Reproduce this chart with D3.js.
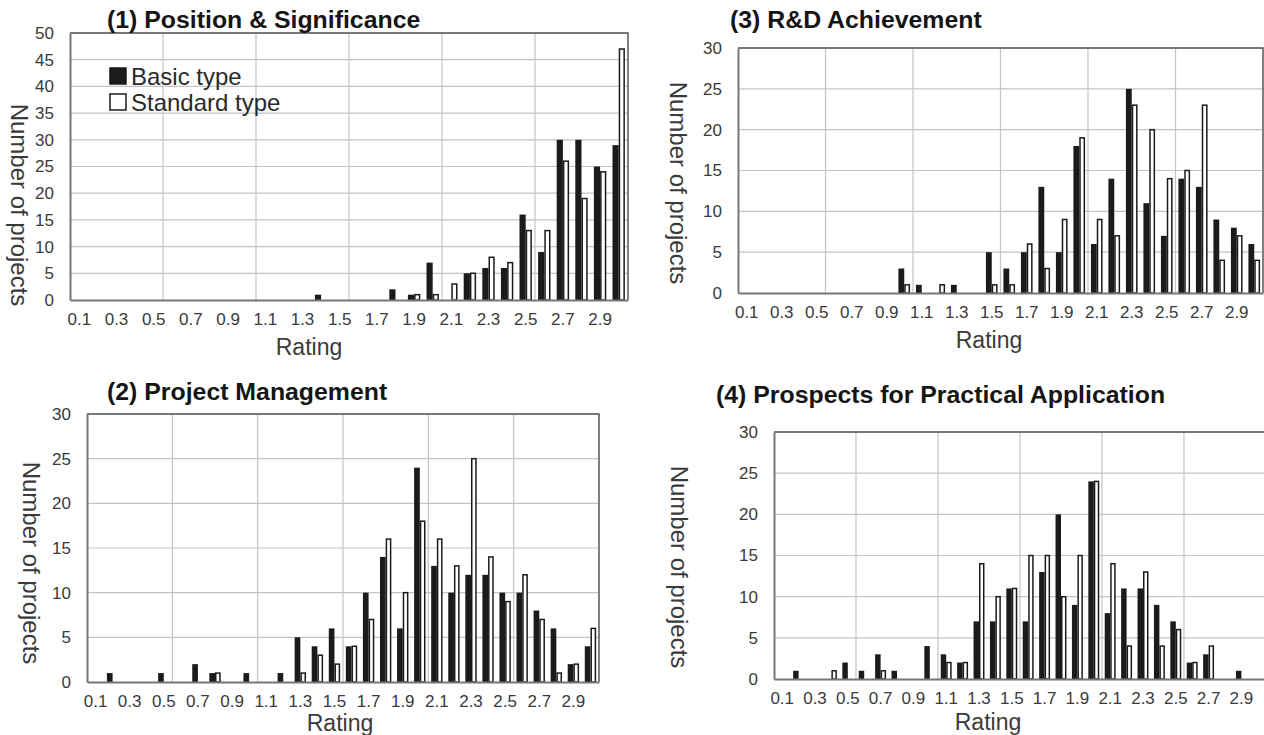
<!DOCTYPE html>
<meta charset="utf-8">
<html>
<head>
  <title>Rating histograms</title>
  <script src="https://cdn.jsdelivr.net/npm/d3@7"></script>
  <style>
    body { margin: 0; background: #fff; }
    svg text { font-family: "Liberation Sans", Arial, sans-serif; }
  </style>
</head>
<body>
<div id="chart"></div>
<script>
// rating bins 0.1 ... 3.0
var ratings = ["0.1","0.2","0.3","0.4","0.5","0.6","0.7","0.8","0.9","1.0",
               "1.1","1.2","1.3","1.4","1.5","1.6","1.7","1.8","1.9","2.0",
               "2.1","2.2","2.3","2.4","2.5","2.6","2.7","2.8","2.9","3.0"];
var ratingTicks = ["0.1","0.3","0.5","0.7","0.9","1.1","1.3","1.5","1.7","1.9","2.1","2.3","2.5","2.7","2.9"];
var seriesNames = ["Basic type", "Standard type"];

// (1) Position & Significance
var posBasic    = [0,0,0,0,0,0,0,0,0,0, 0,0,0,1,0,0,0,2,1,7, 0,5,6,6,16,9,30,30,25,29];
var posStandard = [0,0,0,0,0,0,0,0,0,0, 0,0,0,0,0,0,0,0,1,1, 3,5,8,7,13,13,26,19,24,47];
// (2) Project Management
var pmBasic     = [0,1,0,0,1,0,2,1,0,1, 0,1,5,4,6,4,10,14,6,24, 13,10,12,12,10,10,8,6,2,4];
var pmStandard  = [0,0,0,0,0,0,0,1,0,0, 0,0,1,3,2,4,7,16,10,18, 16,13,25,14,9,12,7,1,2,6];
// (3) R&D Achievement
var rdBasic     = [0,0,0,0,0,0,0,0,0,3, 1,0,1,0,5,3,5,13,5,18, 6,14,25,11,7,14,13,9,8,6];
var rdStandard  = [0,0,0,0,0,0,0,0,0,1, 0,1,0,0,1,1,6,3,9,19, 9,7,23,20,14,15,23,4,7,4];
// (4) Prospects for Practical Application
var ppBasic     = [0,1,0,0,2,1,3,1,0,4, 3,2,7,7,11,7,13,20,9,24, 8,11,11,9,7,2,3,0,1,0];
var ppStandard  = [0,0,0,1,0,0,1,0,0,0, 2,2,14,10,11,15,15,10,15,24, 14,4,13,4,6,2,4,0,0,0];

var panels = [
  { title: "(1) Position & Significance", basic: posBasic, standard: posStandard, yMax: 50,
    x0: 70, x1: 628, yTop: 33, yBot: 300, titleX: 107, titleY: 28,
    xTitleX: 309, xTitleY: 355, yTitleX: 19, yTitleY: 205, legend: true },
  { title: "(2) Project Management", basic: pmBasic, standard: pmStandard, yMax: 30,
    x0: 87, x1: 599, yTop: 414, yBot: 682, titleX: 107, titleY: 400,
    xTitleX: 340, xTitleY: 731, yTitleX: 31, yTitleY: 563 },
  { title: "(3) R&D Achievement", basic: rdBasic, standard: rdStandard, yMax: 30,
    x0: 738, x1: 1263, yTop: 48, yBot: 293, titleX: 730, titleY: 28,
    xTitleX: 989, xTitleY: 348, yTitleX: 678, yTitleY: 183 },
  { title: "(4) Prospects for Practical Application", basic: ppBasic, standard: ppStandard, yMax: 30,
    x0: 774, x1: 1266, yTop: 432, yBot: 679, titleX: 716, titleY: 403,
    xTitleX: 988, xTitleY: 730, yTitleX: 679, yTitleY: 567 }
];

var svg = d3.select("#chart").append("svg")
  .attr("width", 1264)
  .attr("height", 735);

// the scanned figure is a bit wider than plain Arial
function stretch(t, k) {
  t.attr("textLength", t.node().getComputedTextLength() * k)
   .attr("lengthAdjust", "spacingAndGlyphs");
}

panels.forEach(function(p) {
  var g = svg.append("g");

  var x = d3.scaleBand().domain(ratings).range([p.x0, p.x1]).paddingInner(0).paddingOuter(0);
  var xs = d3.scaleBand().domain(seriesNames).range([0, x.bandwidth()]).paddingInner(0).paddingOuter(0.5);
  var y = d3.scaleLinear().domain([0, p.yMax]).range([p.yBot, p.yTop]);
  var yTicks = d3.range(0, p.yMax + 1, 5);

  // horizontal grid
  g.selectAll(".hgrid").data(yTicks.slice(1)).enter().append("line")
    .attr("x1", p.x0).attr("x2", p.x1)
    .attr("y1", function(d) { return y(d); }).attr("y2", function(d) { return y(d); })
    .attr("stroke", "#c4c4c4").attr("stroke-width", 1.2);

  // vertical grid every 5 bins
  var vgrid = ratings.filter(function(d, i) { return i > 0 && i % 5 === 0; });
  g.selectAll(".vgrid").data(vgrid).enter().append("line")
    .attr("x1", function(d) { return x(d); }).attr("x2", function(d) { return x(d); })
    .attr("y1", p.yTop).attr("y2", p.yBot)
    .attr("stroke", "#c4c4c4").attr("stroke-width", 1.2);

  // frame: top and right
  g.append("path")
    .attr("d", "M" + p.x0 + "," + p.yTop + "H" + p.x1 + "V" + p.yBot)
    .attr("fill", "none").attr("stroke", "#555").attr("stroke-width", 1.5);

  var rows = ratings.map(function(r, i) {
    return { r: r, b: p.basic[i], s: p.standard[i] };
  });

  g.selectAll(".basic").data(rows.filter(function(d) { return d.b > 0; })).enter().append("rect")
    .attr("x", function(d) { return x(d.r) + xs("Basic type"); })
    .attr("y", function(d) { return y(d.b); })
    .attr("width", xs.bandwidth())
    .attr("height", function(d) { return y(0) - y(d.b); })
    .attr("fill", "#1b1b1b");

  g.selectAll(".standard").data(rows.filter(function(d) { return d.s > 0; })).enter().append("rect")
    .attr("x", function(d) { return x(d.r) + xs("Standard type") + 0.75; })
    .attr("y", function(d) { return y(d.s); })
    .attr("width", xs.bandwidth() - 1.5)
    .attr("height", function(d) { return y(0) - y(d.s); })
    .attr("fill", "#fff").attr("stroke", "#1b1b1b").attr("stroke-width", 1.5);

  // axes
  var yAxis = g.append("g")
    .attr("transform", "translate(" + p.x0 + ",0)")
    .call(d3.axisLeft(y).tickValues(yTicks).tickSize(0).tickPadding(16));
  yAxis.select(".domain").attr("stroke", "#777").attr("stroke-width", 2);
  yAxis.selectAll("text").attr("font-size", 17).attr("fill", "#3a3a3a")
    .attr("font-family", "Liberation Sans, Arial, sans-serif");

  var xAxis = g.append("g")
    .attr("transform", "translate(0," + p.yBot + ")")
    .call(d3.axisBottom(x).tickValues(ratingTicks).tickSize(0).tickPadding(13));
  xAxis.select(".domain").attr("stroke", "#777").attr("stroke-width", 2);
  xAxis.selectAll("text").attr("font-size", 17).attr("fill", "#3a3a3a")
    .attr("font-family", "Liberation Sans, Arial, sans-serif");

  // titles
  var t = g.append("text")
    .attr("x", p.titleX).attr("y", p.titleY)
    .attr("font-size", 23).attr("font-weight", "bold").attr("fill", "#151515")
    .text(p.title);
  stretch(t, 1.08);

  g.append("text")
    .attr("x", p.xTitleX).attr("y", p.xTitleY)
    .attr("text-anchor", "middle")
    .attr("font-size", 23).attr("fill", "#3a3a3a")
    .text("Rating");

  g.append("text")
    .attr("transform", "translate(" + p.yTitleX + "," + p.yTitleY + ") rotate(90)")
    .attr("text-anchor", "middle").attr("dy", "0.35em")
    .attr("font-size", 24).attr("fill", "#3a3a3a")
    .text("Number of projects");

  if (p.legend) {
    var lg = g.append("g");
    seriesNames.forEach(function(name, i) {
      lg.append("rect")
        .attr("x", 110).attr("y", 68 + i * 26)
        .attr("width", 16).attr("height", 16)
        .attr("fill", i === 0 ? "#1b1b1b" : "#fff")
        .attr("stroke", "#1b1b1b").attr("stroke-width", 1.5);
      lg.append("text")
        .attr("x", 131).attr("y", 85 + i * 26)
        .attr("font-size", 24).attr("fill", "#2a2a2a")
        .text(name);
    });
  }
});
</script>
</body>
</html>
